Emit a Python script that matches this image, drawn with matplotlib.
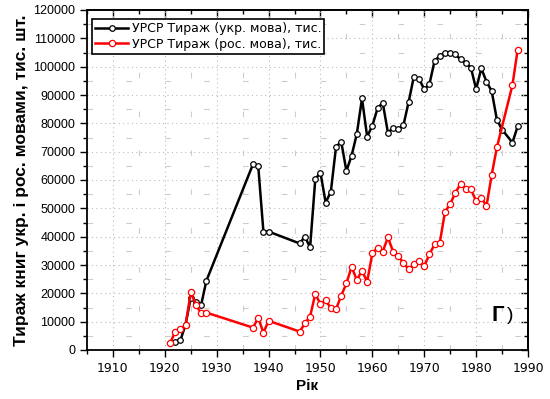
import matplotlib
matplotlib.use("Agg")
import matplotlib.pyplot as plt
from matplotlib.ticker import MultipleLocator

# Ukrainian-language print runs (thousand copies)
ukr_years = [1922, 1923, 1924, 1925, 1926, 1927, 1928, 1937, 1938, 1939, 1940,
             1946, 1947, 1948, 1949, 1950, 1951, 1952, 1953, 1954, 1955, 1956,
             1957, 1958, 1959, 1960, 1961, 1962, 1963, 1964, 1965, 1966, 1967,
             1968, 1969, 1970, 1971, 1972, 1973, 1974, 1975, 1976, 1977, 1978,
             1979, 1980, 1981, 1982, 1983, 1984, 1985, 1987, 1988]
ukr_vals = [3000, 3400, 9000, 18500, 17000, 15900, 24400, 65600, 65000, 41800, 41800,
            37600, 40000, 36200, 60300, 62600, 52000, 55900, 71700, 73500, 63200, 68600,
            76200, 88800, 75300, 79200, 85300, 87300, 76700, 78400, 78000, 79400, 87600,
            96500, 95600, 92100, 93800, 102100, 103800, 104900, 104900, 104300, 102600, 101400,
            99600, 92100, 99400, 94700, 91400, 81300, 77800, 73200, 78900]

# Russian-language print runs (thousand copies)
rus_years = [1921, 1922, 1923, 1924, 1925, 1926, 1927, 1928, 1937, 1938, 1939, 1940,
             1946, 1947, 1948, 1949, 1950, 1951, 1952, 1953, 1954, 1955, 1956,
             1957, 1958, 1959, 1960, 1961, 1962, 1963, 1964, 1965, 1966, 1967,
             1968, 1969, 1970, 1971, 1972, 1973, 1974, 1975, 1976, 1977, 1978,
             1979, 1980, 1981, 1982, 1983, 1984, 1987, 1988]
rus_vals = [2300, 6500, 7300, 8800, 20400, 16000, 12900, 13200, 7900, 11400, 6100, 10300,
            6500, 9400, 11800, 19800, 16200, 17600, 14700, 14400, 19200, 23500, 29400,
            24700, 28000, 24100, 34100, 36100, 34700, 39800, 34700, 33200, 30600, 28600,
            30200, 31400, 29600, 33800, 37300, 37900, 48800, 51500, 55500, 58600, 56800,
            56700, 52600, 53800, 50800, 61800, 71500, 93500, 105900]

label_ukr = "УРСР Тираж (укр. мова), тис."
label_rus = "УРСР Тираж (рос. мова), тис."

fig = plt.figure(figsize=(5.5, 3.99), dpi=100)
ax = fig.add_axes([87/550, (399-350)/399, (528-87)/550, (350-10)/399])

ax.plot(ukr_years, ukr_vals, color="black", lw=1.8, marker="o", ms=4.0,
        mfc="white", mec="black", mew=0.9, label=label_ukr, zorder=3)
ax.plot(rus_years, rus_vals, color="red", lw=1.8, marker="o", ms=4.5,
        mfc="white", mec="red", mew=0.9, label=label_rus, zorder=3)

ax.set_xlim(1905, 1990)
ax.set_ylim(0, 120000)
ax.xaxis.set_major_locator(MultipleLocator(10))
ax.xaxis.set_minor_locator(MultipleLocator(5))
ax.yaxis.set_major_locator(MultipleLocator(10000))
ax.yaxis.set_minor_locator(MultipleLocator(5000))

ax.grid(True, which="major", color="#bbbbbb", lw=0.8, ls=(0, (1, 3)))
ax.grid(True, which="minor", color="#cccccc", lw=0.8, ls=(0, (5, 30)))
ax.set_axisbelow(True)

ax.tick_params(which="both", direction="out", top=False, right=False, width=1)
ax.tick_params(which="major", length=5)
ax.tick_params(which="minor", length=3)
for lab in ax.get_yticklabels():
    lab.set_fontfamily("Liberation Sans")
    lab.set_fontsize(9)
for lab in ax.get_xticklabels():
    lab.set_fontfamily("DejaVu Sans")
    lab.set_fontsize(9)

secx = ax.secondary_xaxis("top")
secx.xaxis.set_major_locator(MultipleLocator(10))
secx.xaxis.set_minor_locator(MultipleLocator(5))
secx.tick_params(which="both", direction="in", labeltop=False, width=1)
secx.tick_params(which="major", length=5)
secx.tick_params(which="minor", length=3)
secy = ax.secondary_yaxis("right")
secy.yaxis.set_major_locator(MultipleLocator(10000))
secy.yaxis.set_minor_locator(MultipleLocator(5000))
secy.tick_params(which="both", direction="in", labelright=False, width=1)
secy.tick_params(which="major", length=5)
secy.tick_params(which="minor", length=3)

for s in list(ax.spines.values()):
    s.set_linewidth(1.3)
secx.spines["top"].set_linewidth(1.3)
secy.spines["right"].set_linewidth(1.3)

ax.set_xlabel("Рік", fontfamily="Liberation Sans", fontweight="bold", fontsize=11, labelpad=3)
ax.set_ylabel("Тираж книг укр. і рос. мовами, тис. шт.", fontfamily="Liberation Sans",
              fontweight="bold", fontsize=12.5, labelpad=3)

leg = ax.legend(loc="upper left", bbox_to_anchor=(0.012, 0.973), frameon=True,
                fancybox=False, edgecolor="black", framealpha=1,
                prop={"family": "DejaVu Sans", "size": 9},
                handlelength=2.6, handletextpad=0.3, borderpad=0.25,
                labelspacing=0.2, borderaxespad=0)
leg.get_frame().set_linewidth(1.2)

ax.text(0.918, 0.07, "Г", transform=ax.transAxes, fontfamily="Liberation Sans",
        fontweight="bold", fontsize=16, ha="left", va="bottom")
ax.text(0.953, 0.075, ")", transform=ax.transAxes, fontfamily="Liberation Sans",
        fontsize=14, ha="left", va="bottom")

fig.savefig("out.png", dpi=100)
